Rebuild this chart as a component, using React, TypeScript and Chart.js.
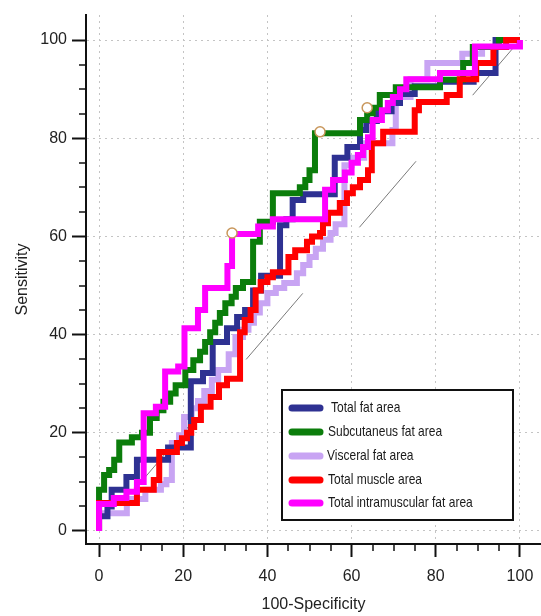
import React, { useEffect, useRef } from 'react';
import { Chart, registerables } from 'chart.js';

Chart.register(...registerables);

// ---------- DATA ----------
const seriesLabels = [
  'Total fat area',
  'Subcutaneus fat area',
  'Visceral fat area',
  'Total muscle area',
  'Total intramuscular fat area',
];

// [100-Specificity, Sensitivity] corner points of each ROC staircase
const totalFatArea: [number, number][] = [
  [0, 0], [0, 3], [2, 3], [2, 5], [3, 5], [3, 8.4], [6.5, 8.4], [6.5, 11], [9, 11], [9, 14.5],
  [16.4, 14.5], [16.4, 17], [21.8, 17], [21.8, 30.5], [24.7, 30.5], [24.7, 32.2], [27, 32.2],
  [27, 38.5], [30.4, 38.5], [30.4, 41.3], [32.8, 41.3], [32.8, 43.6], [34.7, 43.6], [34.7, 45],
  [36.6, 45], [36.6, 49], [38.5, 49], [38.5, 52], [43, 52], [43, 62.3], [44.5, 62.3], [44.5, 63.5],
  [46, 63.5], [46, 67.4], [48.5, 67.4], [48.5, 68.6], [56, 68.6], [56, 76], [59, 76], [59, 78.2],
  [62, 78.2], [62, 81.7], [63.5, 81.7], [63.5, 83.5], [66, 83.5], [66, 85.5], [69.5, 85.5],
  [69.5, 87.2], [71.5, 87.2], [71.5, 89], [75, 89], [75, 90.6], [81, 90.6], [81, 91.5], [89, 91.5],
  [89, 93.3], [94.2, 93.3], [94.2, 100], [100, 100],
];

const subcutaneusFatArea: [number, number][] = [
  [0, 0], [0, 8.4], [1.2, 8.4], [1.2, 11.4], [2.4, 11.4], [2.4, 12.4], [3.6, 12.4], [3.6, 14.5],
  [4.8, 14.5], [4.8, 18], [7.8, 18], [7.8, 19.1], [10.2, 19.1], [10.2, 20], [12.1, 20], [12.1, 23],
  [13.7, 23], [13.7, 24.6], [15.3, 24.6], [15.3, 26.3], [16.9, 26.3], [16.9, 28], [18.2, 28],
  [18.2, 29.7], [20.5, 29.7], [20.5, 32.8], [22.4, 32.8], [22.4, 34.8], [24, 34.8], [24, 36.5],
  [25.2, 36.5], [25.2, 38.5], [26.4, 38.5], [26.4, 40.5], [27.6, 40.5], [27.6, 42.4], [28.7, 42.4],
  [28.7, 44.4], [30, 44.4], [30, 46.4], [31.5, 46.4], [31.5, 47.7], [32.5, 47.7], [32.5, 49.5],
  [34.2, 49.5], [34.2, 50.7], [36.6, 50.7], [36.6, 58.9], [38.2, 58.9], [38.2, 63], [41.3, 63],
  [41.3, 68.8], [47.7, 68.8], [47.7, 70], [49, 70], [49, 71.5], [50, 71.5], [50, 73.5], [51.3, 73.5],
  [51.3, 81], [62, 81], [62, 83.7], [63.7, 83.7], [63.7, 85.1], [65, 85.1], [65, 86.2], [66.7, 86.2],
  [66.7, 88.8], [70.5, 88.8], [70.5, 90.4], [81, 90.4], [81, 91.9], [86.5, 91.9], [86.5, 95.3],
  [88.8, 95.3], [88.8, 98.6], [95, 98.6], [95, 100], [100, 100],
];

const visceralFatArea: [number, number][] = [
  [0, 0], [0, 3.6], [6.6, 3.6], [6.6, 6.5], [11, 6.5], [11, 8.4], [14.7, 8.4], [14.7, 9.5], [16, 9.5],
  [16, 10.4], [17.3, 10.4], [17.3, 17.9], [19, 17.9], [19, 19.5], [20.2, 19.5], [20.2, 23.2],
  [22, 23.2], [22, 25], [23.5, 25], [23.5, 26.5], [25, 26.5], [25, 28.5], [26.8, 28.5], [26.8, 30.8],
  [28.3, 30.8], [28.3, 32.8], [30.8, 32.8], [30.8, 36], [32.4, 36], [32.4, 39.5], [34.2, 39.5],
  [34.2, 41], [35.5, 41], [35.5, 42.4], [36.8, 42.4], [36.8, 44.5], [38.2, 44.5], [38.2, 46.4],
  [40, 46.4], [40, 48.5], [42, 48.5], [42, 49.5], [44, 49.5], [44, 50.5], [47, 50.5], [47, 52.5],
  [48.5, 52.5], [48.5, 54.2], [50, 54.2], [50, 55.8], [51.5, 55.8], [51.5, 57.5], [53.2, 57.5],
  [53.2, 59.3], [55, 59.3], [55, 60.7], [56.2, 60.7], [56.2, 62.5], [58.3, 62.5], [58.3, 74.5],
  [60, 74.5], [60, 76], [63, 76], [63, 79], [69.7, 79], [69.7, 81.7], [70.5, 81.7], [70.5, 88.4],
  [74, 88.4], [74, 92], [78, 92], [78, 95.3], [86.3, 95.3], [86.3, 97.2], [91, 97.2], [91, 98.6],
  [95, 98.6], [95, 100], [100, 100],
];

const totalMuscleArea: [number, number][] = [
  [0, 0], [0, 5.7], [9, 5.7], [9, 8.4], [13, 8.4], [13, 10.4], [14.3, 10.4], [14.3, 16.1],
  [18.5, 16.1], [18.5, 17.9], [19.7, 17.9], [19.7, 18.9], [20.9, 18.9], [20.9, 20], [21.9, 20],
  [21.9, 21.2], [22.6, 21.2], [22.6, 22.6], [24.2, 22.6], [24.2, 25.3], [26.5, 25.3], [26.5, 27.3],
  [28.5, 27.3], [28.5, 29.7], [30.4, 29.7], [30.4, 31], [33.5, 31], [33.5, 40.5], [34.6, 40.5],
  [34.6, 43], [36, 43], [36, 45], [37.2, 45], [37.2, 49], [38.4, 49], [38.4, 50.7], [40, 50.7],
  [40, 51.7], [41.3, 51.7], [41.3, 52.7], [45, 52.7], [45, 55.8], [46.6, 55.8], [46.6, 57.2],
  [49.4, 57.2], [49.4, 58.9], [50.6, 58.9], [50.6, 60], [52.5, 60], [52.5, 60.7], [53.2, 60.7],
  [53.2, 62.7], [54.4, 62.7], [54.4, 64.8], [57.2, 64.8], [57.2, 66.8], [58.9, 66.8], [58.9, 68.8],
  [60.3, 68.8], [60.3, 70], [62, 70], [62, 71.5], [63.9, 71.5], [63.9, 73.5], [64.8, 73.5],
  [64.8, 79], [67.5, 79], [67.5, 81.3], [75, 81.3], [75, 85.7], [76, 85.7], [76, 87.4], [82.6, 87.4],
  [82.6, 88.8], [85.7, 88.8], [85.7, 92], [89.6, 92], [89.6, 95.3], [93.7, 95.3], [93.7, 98.6],
  [96.7, 98.6], [96.7, 100], [100, 100],
];

const totalIntramuscularFatArea: [number, number][] = [
  [0, 0], [0, 5.5], [3.5, 5.5], [3.5, 6.7], [6.5, 6.7], [6.5, 8], [9, 8], [9, 10], [10.6, 10],
  [10.6, 24], [13.5, 24], [13.5, 25.3], [15.7, 25.3], [15.7, 32.5], [18.8, 32.5], [18.8, 33.5],
  [20.3, 33.5], [20.3, 41.3], [23.5, 41.3], [23.5, 45], [25.2, 45], [25.2, 49.5], [30.5, 49.5],
  [30.5, 54], [31.6, 54], [31.6, 60.5], [37.8, 60.5], [37.8, 62], [41.3, 62], [41.3, 63.5],
  [53.7, 63.5], [53.7, 69.5], [55.6, 69.5], [55.6, 71.5], [58.4, 71.5], [58.4, 73], [60, 73],
  [60, 75], [61.5, 75], [61.5, 76.6], [62.7, 76.6], [62.7, 78.2], [63.9, 78.2], [63.9, 80.2],
  [65, 80.2], [65, 83.7], [67.2, 83.7], [67.2, 85.7], [68.6, 85.7], [68.6, 87.2], [69.8, 87.2],
  [69.8, 88.4], [71.5, 88.4], [71.5, 90], [73, 90], [73, 92], [81, 92], [81, 93.3], [89.3, 93.3],
  [89.3, 98.7], [100, 98.7], [100, 100],
];

const cutoffPoints: [number, number][] = [[31.6, 60.7], [52.5, 81.3], [63.7, 86.2]];
const referenceLine: [number, number][] = [[0, 0], [100, 100]];

const majorTicks = [0, 20, 40, 60, 80, 100];
const minorTicks = [5, 10, 15, 25, 30, 35, 45, 50, 55, 65, 70, 75, 85, 90, 95];

// ---------- STYLE ----------
const seriesColors = ['#2e3192', '#0b7d0b', '#c8a4f3', '#ff0000', '#ff00ff'];
const FONT = 'Arial, "Liberation Sans", sans-serif';

const toXY = (arr: [number, number][]) => arr.map(([x, y]) => ({ x, y }));

const extrasPlugin = {
  id: 'extras',
  afterDraw(chart: any) {
    const { ctx, chartArea } = chart;
    const xs = chart.scales.x;
    const ys = chart.scales.y;
    ctx.save();
    // minor ticks
    ctx.strokeStyle = '#111';
    ctx.lineWidth = 1.5;
    minorTicks.forEach((v) => {
      const px = Math.round(xs.getPixelForValue(v));
      ctx.beginPath();
      ctx.moveTo(px, chartArea.bottom);
      ctx.lineTo(px, chartArea.bottom + 7);
      ctx.stroke();
      const py = Math.round(ys.getPixelForValue(v));
      ctx.beginPath();
      ctx.moveTo(chartArea.left, py);
      ctx.lineTo(chartArea.left - 7, py);
      ctx.stroke();
    });
    // legend box
    const bx = 282, by = 390, bw = 231, bh = 130;
    ctx.fillStyle = '#fff';
    ctx.fillRect(bx, by, bw, bh);
    ctx.strokeStyle = '#111';
    ctx.lineWidth = 2;
    ctx.strokeRect(bx, by, bw, bh);
    const rowY = [408, 432, 456, 480, 503];
    const textX = [331, 328, 327, 328, 328];
    seriesLabels.forEach((label, i) => {
      const yy = rowY[i];
      ctx.strokeStyle = seriesColors[i];
      ctx.lineWidth = 7;
      ctx.lineCap = 'round';
      ctx.beginPath();
      ctx.moveTo(292, yy);
      ctx.lineTo(320, yy);
      ctx.stroke();
      ctx.save();
      ctx.translate(textX[i], yy);
      ctx.scale(0.8, 1);
      ctx.fillStyle = '#1a1a1a';
      ctx.font = '15px ' + FONT;
      ctx.textBaseline = 'middle';
      ctx.textAlign = 'left';
      ctx.fillText(label, 0, 0);
      ctx.restore();
    });
    ctx.restore();
  },
};

export default function App() {
  const canvasRef = useRef<HTMLCanvasElement | null>(null);

  useEffect(() => {
    const canvas = canvasRef.current;
    if (!canvas) return;
    const curves = [
      totalFatArea,
      subcutaneusFatArea,
      visceralFatArea,
      totalMuscleArea,
      totalIntramuscularFatArea,
    ];
    const curveOrder = [4, 3, 5, 2, 1];
    const datasets: any[] = curves.map((c, i) => ({
      label: seriesLabels[i],
      data: toXY(c),
      showLine: true,
      borderColor: seriesColors[i],
      backgroundColor: seriesColors[i],
      borderWidth: 6,
      borderJoinStyle: 'miter',
      borderCapStyle: 'butt',
      pointRadius: 0,
      fill: false,
      tension: 0,
      order: curveOrder[i],
    }));
    datasets.push({
      label: 'reference',
      data: toXY(referenceLine),
      showLine: true,
      borderColor: '#7a7a7a',
      borderWidth: 1,
      borderDash: [87, 87],
      borderDashOffset: 122,
      pointRadius: 0,
      fill: false,
      order: 6,
    });
    datasets.push({
      label: 'cut-off',
      data: toXY(cutoffPoints),
      showLine: false,
      pointRadius: 5,
      pointBorderWidth: 1.5,
      pointBorderColor: '#c8965a',
      pointBackgroundColor: '#ffffff',
      order: 0,
    });

    const axisCommon = (title: string) => ({
      type: 'linear' as const,
      grid: {
        color: '#c4c4c4',
        lineWidth: 1,
        tickColor: '#111',
        tickWidth: 2,
        drawOnChartArea: true,
      },
      border: { display: true, color: '#111', width: 2, dash: [2, 4] },
      ticks: {
        font: { family: FONT, size: 16 },
        color: '#222',
        maxRotation: 0,
        autoSkip: false,
      },
      title: {
        display: true,
        text: title,
        font: { family: FONT, size: 16 },
        color: '#222',
      },
    });

    const xAxis: any = axisCommon('100-Specificity');
    xAxis.min = -3.1;
    xAxis.max = 105;
    xAxis.grid.tickLength = 13;
    xAxis.ticks.padding = 10;
    xAxis.title.padding = { top: 0, bottom: 2 };
    xAxis.afterBuildTicks = (s: any) => {
      s.ticks = majorTicks.map((v) => ({ value: v }));
    };
    xAxis.afterFit = (s: any) => {
      s.height = 72;
      s.paddingLeft = 0;
      s.paddingRight = 0;
    };

    const yAxis: any = axisCommon('Sensitivity');
    yAxis.min = -2.65;
    yAxis.max = 105.1;
    yAxis.grid.tickLength = 14;
    yAxis.ticks.padding = 5;
    yAxis.title.padding = { top: 13, bottom: 0 };
    yAxis.afterBuildTicks = (s: any) => {
      s.ticks = majorTicks.map((v) => ({ value: v }));
    };
    yAxis.afterFit = (s: any) => {
      s.width = 86;
      s.paddingTop = 0;
      s.paddingBottom = 0;
    };

    const chart = new Chart(canvas, {
      type: 'scatter',
      data: { datasets },
      options: {
        animation: false,
        responsive: false,
        devicePixelRatio: 1,
        layout: { autoPadding: false, padding: { top: 15, left: 0, right: 0, bottom: 0 } },
        plugins: {
          legend: { display: false },
          tooltip: { enabled: false },
        },
        scales: { x: xAxis, y: yAxis },
      },
      plugins: [extrasPlugin],
    });
    return () => chart.destroy();
  }, []);

  return (
    <div style={{ position: 'absolute', left: 0, top: 0, width: 541, height: 616, background: '#fff' }}>
      <canvas ref={canvasRef} width={541} height={616} style={{ display: 'block' }} />
    </div>
  );
}
